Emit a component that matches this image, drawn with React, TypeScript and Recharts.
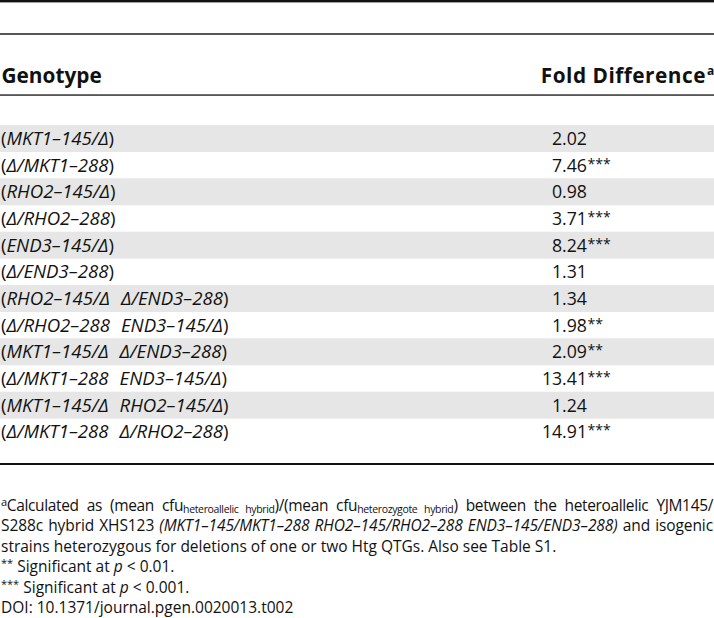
import React from 'react';
import { BarChart, Bar, XAxis, YAxis, LabelList } from 'recharts';

const genotypes = [
  'MKT1–145/Δ',
  'Δ/MKT1–288',
  'RHO2–145/Δ',
  'Δ/RHO2–288',
  'END3–145/Δ',
  'Δ/END3–288',
  'RHO2–145/Δ Δ/END3–288',
  'Δ/RHO2–288 END3–145/Δ',
  'MKT1–145/Δ Δ/END3–288',
  'Δ/MKT1–288 END3–145/Δ',
  'MKT1–145/Δ RHO2–145/Δ',
  'Δ/MKT1–288 Δ/RHO2–288',
];
const foldValues = [2.02, 7.46, 0.98, 3.71, 8.24, 1.31, 1.34, 1.98, 2.09, 13.41, 1.24, 14.91];
const significance = ['', '***', '', '***', '***', '', '', '**', '**', '***', '', '***'];

const rows = genotypes.map((g, i) => ({ genotype: g, fold: foldValues[i], sig: significance[i] }));

const FONT = '"Open Sans", sans-serif';

const GenotypeLabel = (props: any) => {
  const { y, height, value } = props;
  const parts = String(value).split(' ');
  return (
    <text x={1} y={y + height / 2} dy={6.5} fontSize={18.6} fontFamily={FONT} fill="#111">
      <tspan>(</tspan>
      {parts.map((p, i) => (
        <tspan key={i} fontStyle="italic" dx={i > 0 ? 11 : 0}>{p}</tspan>
      ))}
      <tspan>)</tspan>
    </text>
  );
};

const FoldLabel = (props: any) => {
  const { y, height, value, index } = props;
  const cy = y + height / 2;
  return (
    <g>
      <text x={587} y={cy} dy={6.4} textAnchor="end" fontSize={17.7} fontFamily={FONT} fill="#111">
        {Number(value).toFixed(2)}
      </text>
      {significance[index] ? (
        <text x={587.5} y={cy} dy={3.5} fontSize={14} fontFamily={FONT} fill="#111">
          {significance[index]}
        </text>
      ) : null}
    </g>
  );
};

const stripe = (props: any) => (
  <rect
    key={`bg-${props.index}`}
    x={0}
    y={props.y}
    width={714}
    height={props.height}
    fill={props.index % 2 === 0 ? '#e6e6e6' : 'none'}
  />
);

const sub: React.CSSProperties = { fontSize: 10.5, lineHeight: 0, verticalAlign: '-2px' };
const sup: React.CSSProperties = { fontSize: 11, lineHeight: 0, verticalAlign: '5px' };

export default function App() {
  return (
    <div
      style={{
        position: 'absolute',
        left: 0,
        top: 0,
        width: 714,
        height: 618,
        background: '#fff',
        fontFamily: FONT,
        color: '#111',
        overflow: 'hidden',
      }}
    >
      <svg width={714} height={125} style={{ position: 'absolute', left: 0, top: 0 }}>
        <rect x={0} y={0} width={714} height={2.4} fill="#111" />
        <rect x={0} y={33.3} width={714} height={1.4} fill="#111" />
        <text x={1.5} y={83} fontSize={20.8} fontWeight={700} fontFamily={FONT} fill="#111">
          Genotype
        </text>
        <text
          x={706}
          y={83}
          textAnchor="end"
          fontSize={20.8}
          fontWeight={700}
          letterSpacing={0.5}
          fontFamily={FONT}
          fill="#111"
        >
          Fold Difference
        </text>
        <text x={707} y={75} fontSize={12} fontWeight={700} fontFamily={FONT} fill="#111">
          a
        </text>
        <rect x={0} y={94.4} width={714} height={1.3} fill="#111" />
      </svg>

      <div style={{ position: 'absolute', left: 0, top: 125 }}>
        <BarChart
          width={714}
          height={320}
          data={rows}
          layout="vertical"
          margin={{ top: 0, right: 0, bottom: 0, left: 0 }}
          barCategoryGap={0}
          barGap={0}
        >
          <XAxis type="number" hide domain={[0, 16]} />
          <YAxis type="category" dataKey="genotype" hide />
          <Bar dataKey="fold" fill="none" background={stripe} isAnimationActive={false}>
            <LabelList dataKey="genotype" content={<GenotypeLabel />} />
            <LabelList dataKey="fold" content={<FoldLabel />} />
          </Bar>
        </BarChart>
      </div>

      <div style={{ position: 'absolute', left: 0, top: 462.6, width: 714, height: 2.5, background: '#111' }} />

      <div
        style={{
          position: 'absolute',
          left: 1,
          top: 494.8,
          width: 712,
          fontSize: 15.5,
          lineHeight: '20.5px',
        }}
      >
        <div style={{ textAlign: 'justify', textAlignLast: 'justify', letterSpacing: -0.35 }}>
          <span style={sup}>a</span>Calculated as (mean cfu<span style={sub}>heteroallelic hybrid</span>)/(mean
          cfu<span style={sub}>heterozygote hybrid</span>) between the heteroallelic YJM145/
        </div>
        <div style={{ textAlign: 'justify', textAlignLast: 'justify', letterSpacing: -0.1 }}>
          S288c hybrid XHS123 <i>(MKT1–145/MKT1–288 RHO2–145/RHO2–288 END3–145/END3–288)</i> and isogenic
        </div>
        <div>strains heterozygous for deletions of one or two Htg QTGs. Also see Table S1.</div>
        <div>
          <span style={sup}>**</span> Significant at <i>p</i> &lt; 0.01.
        </div>
        <div>
          <span style={sup}>***</span> Significant at <i>p</i> &lt; 0.001.
        </div>
        <div>DOI: 10.1371/journal.pgen.0020013.t002</div>
      </div>
    </div>
  );
}
